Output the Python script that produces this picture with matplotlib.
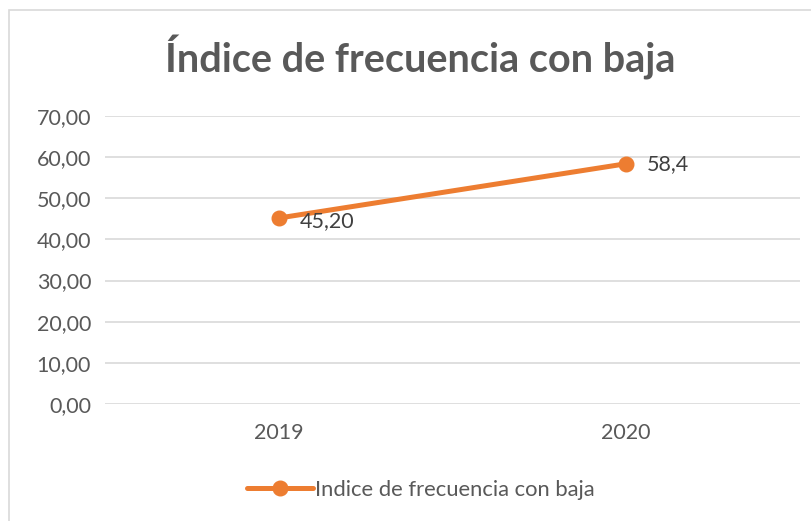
import matplotlib.pyplot as plt
from matplotlib.patches import Rectangle

years = ["2019", "2020"]
valores = [45.20, 58.4]
etiquetas = ["45,20", "58,4"]
y_ticks = [0, 10, 20, 30, 40, 50, 60, 70]
serie = "Indice de frecuencia con baja"
titulo = "Índice de frecuencia con baja"

naranja = "#ED7D31"
gris = "#595959"

plt.rcParams["font.family"] = ["Lato", "DejaVu Sans"]

fig = plt.figure(figsize=(8.12, 5.21), dpi=100)
W, H = 812, 521

# chart frame, cut off on the right and bottom
fig.patches.append(Rectangle((9 / W, -0.1), 1.2, 1.1 - 10 / H, transform=fig.transFigure,
                             fill=False, edgecolor="#D9D9D9", linewidth=1.2))

ax = fig.add_axes([105 / W, (H - 404) / H, 695 / W, 288 / H])
x = list(range(len(years)))
ax.plot(x, valores, color=naranja, linewidth=3.6, marker="o", markersize=10.5,
        solid_capstyle="round", label=serie, zorder=3)

ax.set_xlim(-0.5, 1.5)
ax.set_ylim(0, 70)
ax.set_yticks(y_ticks)
ax.set_yticklabels([f"{v:.2f}".replace(".", ",") for v in y_ticks])
ax.set_xticks(x)
ax.set_xticklabels(years)
ax.grid(axis="y", color="#D9D9D9", linewidth=1.2)
ax.set_axisbelow(True)
for s in ax.spines.values():
    s.set_visible(False)
ax.tick_params(length=0, labelsize=15.5, colors=gris, pad=10)
ax.tick_params(axis="x", pad=14)

# data labels
ax.annotate(etiquetas[0], (x[0], valores[0]), xytext=(15, -2), textcoords="offset points",
            ha="left", va="center", fontsize=15.5, color="#404040")
ax.annotate(etiquetas[1], (x[1], valores[1]), xytext=(15, 0), textcoords="offset points",
            ha="left", va="center", fontsize=15.5, color="#404040")

fig.text(420 / W, 1 - 58 / H, titulo, ha="center", va="center", fontsize=28.5,
         fontweight="bold", color=gris)

leg = fig.legend(loc="center", bbox_to_anchor=(421 / W, 1 - 490 / H), frameon=False,
                 fontsize=15.8, handlelength=3.0, handletextpad=0.1)
for t in leg.get_texts():
    t.set_color(gris)

fig.savefig("out.png", dpi=100)
